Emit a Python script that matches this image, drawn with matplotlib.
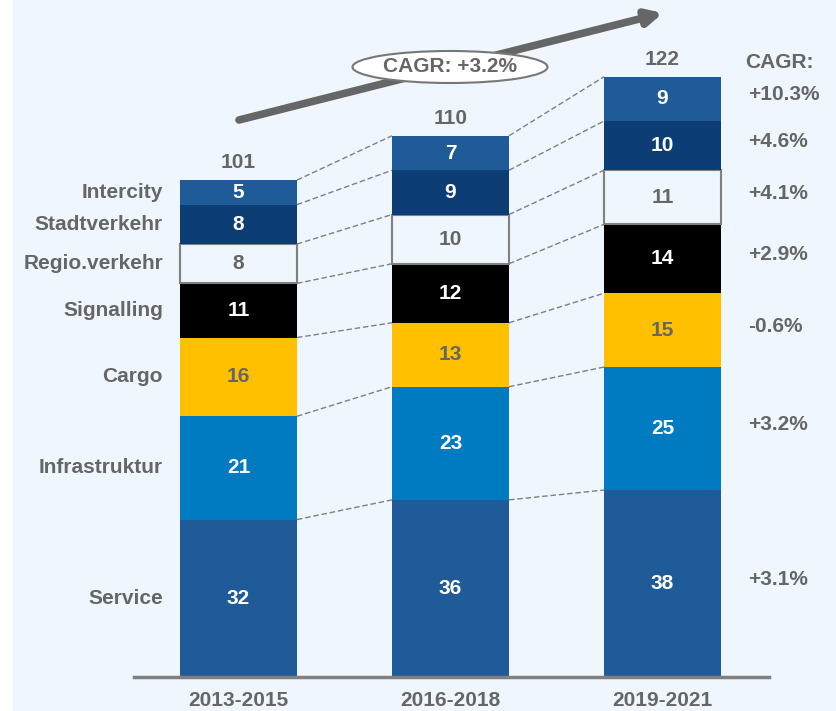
import matplotlib.pyplot as plt
from matplotlib.patches import Ellipse
import numpy as np

plt.rcParams['font.family'] = ['Liberation Sans', 'DejaVu Sans']
plt.rcParams['font.weight'] = 'bold'

periods = ['2013-2015', '2016-2018', '2019-2021']
segments = ['Service', 'Infrastruktur', 'Cargo', 'Signalling',
            'Regio.verkehr', 'Stadtverkehr', 'Intercity']
values = {
    'Service':       [32, 36, 38],
    'Infrastruktur': [21, 23, 25],
    'Cargo':         [16, 13, 15],
    'Signalling':    [11, 12, 14],
    'Regio.verkehr': [8, 10, 11],
    'Stadtverkehr':  [8, 9, 10],
    'Intercity':     [5, 7, 9],
}
totals = [101, 110, 122]
cagr = ['+3.1%', '+3.2%', '-0.6%', '+2.9%', '+4.1%', '+4.6%', '+10.3%']
total_cagr = 'CAGR: +3.2%'

bg = '#EFF6FE'
grey = '#666666'
colors = {
    'Service': '#1F5A99', 'Infrastruktur': '#007AC0', 'Cargo': '#FFC000',
    'Signalling': '#000000', 'Regio.verkehr': bg, 'Stadtverkehr': '#0C3D74',
    'Intercity': '#1F5A99',
}
text_col = {s: 'white' for s in segments}
text_col['Cargo'] = grey
text_col['Regio.verkehr'] = grey
fs = 15

# figure 837x711 px, baseline at 677 px, 4.92 px per unit, bar centres 212 px apart
W, H = 837, 711
fig = plt.figure(figsize=(W / 100, H / 100), dpi=100, facecolor='white')
base_px = 677
ppu = 4.92
x0_px = 238.5
dx_px = 212
ax = fig.add_axes([13 / W, 0, 1 - 13 / W, 1])
ax.set_facecolor(bg)
ax.set_ylim(-(H - base_px) / ppu, base_px / ppu)
ax.set_xlim((13 - x0_px) / dx_px, (W - x0_px) / dx_px)
for s in ax.spines.values():
    s.set_visible(False)
ax.set_xticks([])
ax.set_yticks([])


def px(x, y):
    return (x - x0_px) / dx_px, (base_px - y) / ppu


x = np.arange(len(periods))
bw = 0.552
bottom = np.zeros(len(periods))
tops = []
for s in segments:
    v = np.array(values[s])
    ec = '#808080' if s == 'Regio.verkehr' else 'none'
    ax.bar(x, v, bw, bottom=bottom, color=colors[s], edgecolor=ec,
           linewidth=1.5 if s == 'Regio.verkehr' else 0, zorder=3)
    for i in range(len(x)):
        ax.text(x[i], bottom[i] + v[i] / 2, str(v[i]), ha='center', va='center',
                color=text_col[s], fontsize=fs, fontweight='bold', zorder=4)
    bottom = bottom + v
    tops.append(bottom.copy())

# dashed connectors between bars
for t in tops:
    for i in range(len(x) - 1):
        ax.plot([x[i] + bw / 2, x[i + 1] - bw / 2], [t[i], t[i + 1]],
                ls=(0, (4, 2)), color='#808080', lw=1, zorder=2)

# totals
for i in range(len(x)):
    ax.text(x[i], totals[i] + 3.5, str(totals[i]), ha='center', va='center',
            color=grey, fontsize=fs, fontweight='bold')

# segment names on the left, CAGR on the right
bottom = np.zeros(len(periods))
for s, c in zip(segments, cagr):
    v = np.array(values[s])
    ax.text(px(163, 0)[0], bottom[0] + v[0] / 2, s, ha='right', va='center',
            color=grey, fontsize=fs, fontweight='bold')
    ax.text(px(748, 0)[0], bottom[2] + v[2] / 2 + 0.8, c, ha='left', va='center',
            color=grey, fontsize=fs, fontweight='bold')
    bottom = bottom + v
ax.text(px(745, 0)[0], px(0, 62)[1], 'CAGR:', ha='left', va='center',
        color=grey, fontsize=fs, fontweight='bold')

# baseline
ax.plot([px(134, 0)[0], px(769, 0)[0]], [0, 0], color='#808080', lw=2.5,
        zorder=5)

# x labels
for i, p in enumerate(periods):
    ax.text(x[i], px(0, 701)[1], p, ha='center', va='center', color=grey,
            fontsize=fs, fontweight='bold')

# growth arrow with ellipse
ax.annotate('', xy=px(663, 13), xytext=px(239, 120),
            arrowprops=dict(arrowstyle='-|>,head_length=0.9,head_width=0.45',
                            color='#666666', lw=5.5, shrinkA=0, shrinkB=0),
            zorder=6)
ex, ey = px(450, 67)
ax.add_patch(Ellipse((ex, ey), 195 / dx_px, 32 / ppu, facecolor='white',
                     edgecolor='#777777', lw=1.5, zorder=7))
ax.text(ex, ey, total_cagr, ha='center', va='center', color=grey,
        fontsize=fs, fontweight='bold', zorder=8)

fig.savefig('out.png', dpi=100, facecolor='white')
